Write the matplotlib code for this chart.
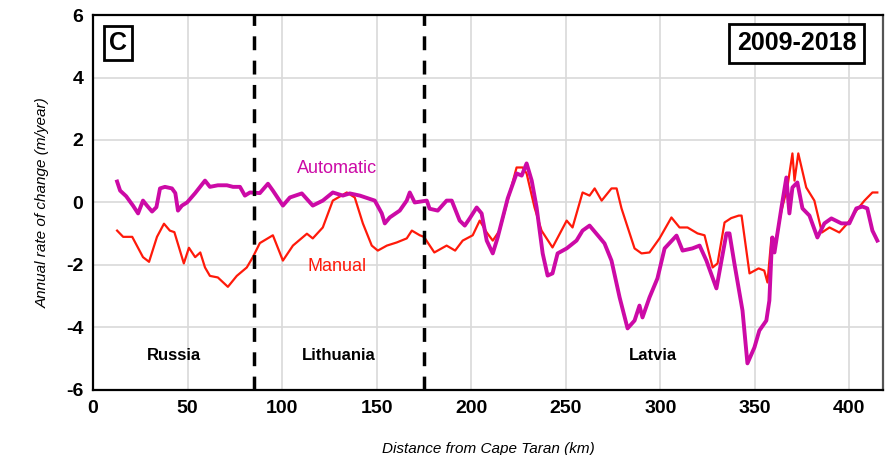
import matplotlib
matplotlib.use('Agg')
import matplotlib.pyplot as plt

plt.rcParams['font.family'] = ['Liberation Sans', 'DejaVu Sans']
plt.rcParams['axes.unicode_minus'] = False

# distance (km) and rate (m/year)
auto_km = [12.7, 14.3, 17.5, 21.1, 23.8, 26.4, 28.5, 31.2, 33.5, 35.4, 38.0, 41.7, 43.5,
           44.9, 47.0, 49.7, 54.0, 59.2, 61.8, 66.0, 70.8, 74.0, 77.7, 80.3, 83.0, 88.2,
           92.5, 95.1, 100.4, 104.1, 110.4, 116.2, 121.5, 126.8, 132.1, 135.8, 141.1,
           149.0, 152.7, 154.3, 156.9, 162.2, 165.9, 167.5, 170.1, 176.5, 178.0, 182.3,
           187.0, 189.7, 193.9, 196.6, 199.2, 202.9, 205.5, 208.2, 211.4, 214.0, 219.3,
           224.0, 226.7, 229.3, 232.0, 234.6, 237.8, 240.4, 243.0, 245.7, 250.5, 255.7,
           258.9, 262.6, 267.9, 270.5, 274.2, 278.5, 282.7, 286.4, 289.0, 290.6, 294.3,
           298.5, 302.3, 308.6, 311.8, 317.0, 320.8, 324.4, 329.7, 335.0, 336.6, 339.2,
           343.5, 346.1, 349.8, 352.4, 356.1, 357.7, 358.8, 359.3, 360.4, 364.1, 366.7,
           368.3, 369.9, 372.5, 375.2, 378.9, 383.1, 386.8, 390.5, 395.8, 400.0, 403.7,
           406.9, 409.5, 412.2, 414.8]
auto_val = [0.67, 0.38, 0.2, -0.1, -0.35, 0.06, -0.1, -0.29, -0.15, 0.45, 0.5, 0.45, 0.3,
            -0.26, -0.1, 0.0, 0.3, 0.7, 0.5, 0.55, 0.55, 0.5, 0.5, 0.22, 0.32, 0.3,
            0.6, 0.38, -0.1, 0.16, 0.29, -0.1, 0.06, 0.32, 0.22, 0.29, 0.22,
            0.06, -0.35, -0.67, -0.48, -0.26, 0.06, 0.32, 0.0, 0.06, -0.2, -0.26,
            0.06, 0.06, -0.58, -0.74, -0.51, -0.16, -0.35, -1.22, -1.63, -1.12, 0.13,
            0.93, 0.86, 1.25, 0.7, -0.16, -1.63, -2.34, -2.27, -1.63, -1.47, -1.22,
            -0.9, -0.74, -1.12, -1.31, -1.86, -3.04, -4.03, -3.78, -3.3, -3.68, -3.04,
            -2.43, -1.47, -1.06, -1.54, -1.47, -1.38, -1.86, -2.75, -0.99, -0.99, -1.95,
            -3.46, -5.15, -4.64, -4.1, -3.78, -3.14, -1.63, -1.12, -1.6, -0.16, 0.8,
            -0.35, 0.48, 0.64, -0.19, -0.42, -1.12, -0.67, -0.51, -0.67, -0.67, -0.19,
            -0.13, -0.19, -0.9, -1.22]

manual_km = [12.7, 15.9, 20.7, 26.4, 29.6, 33.8, 37.5, 40.6, 43.0, 48.0, 50.7, 54.0, 56.7,
             59.2, 61.8, 66.0, 71.3, 76.0, 81.3, 84.5, 88.2, 95.1, 100.4, 105.7, 113.1,
             116.2, 121.5, 126.8, 134.2, 138.4, 142.7, 147.4, 150.6, 155.4, 160.6, 165.9,
             168.6, 172.8, 175.0, 180.5, 187.0, 191.5, 195.5, 200.8, 204.5, 208.2, 211.4,
             215.0, 219.3, 224.0, 227.2, 229.3, 233.5, 237.2, 243.0, 250.5, 253.6, 258.9,
             262.6, 265.3, 269.0, 274.2, 276.9, 279.5, 286.4, 290.1, 294.3, 299.6, 305.9,
             310.2, 314.4, 319.7, 323.4, 327.7, 330.3, 334.0, 337.5, 341.5, 343.0, 347.2,
             352.0, 355.0, 356.7, 358.8, 360.4, 364.1, 367.2, 369.9, 371.0, 373.0, 377.2,
             381.5, 385.5, 389.5, 394.7, 399.0, 403.7, 408.0, 412.2, 414.8]
manual_val = [-0.9, -1.1, -1.1, -1.75, -1.9, -1.1, -0.68, -0.9, -0.95, -1.95, -1.45, -1.75,
              -1.6, -2.08, -2.35, -2.4, -2.7, -2.35, -2.08, -1.75, -1.3, -1.05, -1.86, -1.38,
              -1.0, -1.15, -0.8, 0.06, 0.32, 0.16, -0.67, -1.38, -1.54, -1.38, -1.28, -1.15,
              -0.9, -1.05, -1.1, -1.6, -1.38, -1.54, -1.22, -1.05, -0.58, -0.96, -1.22,
              -0.9, 0.06, 1.12, 1.12, 0.93, -0.16, -0.9, -1.44, -0.58, -0.8, 0.32,
              0.22, 0.45, 0.06, 0.45, 0.45, -0.19, -1.47, -1.63, -1.6, -1.15, -0.48,
              -0.8, -0.8, -0.99, -1.05, -2.08, -1.95, -0.64, -0.5, -0.42, -0.42, -2.27,
              -2.11, -2.18, -2.56, -1.12, -1.44, -0.26, 0.48, 1.57, 0.7, 1.57, 0.48,
              0.06, -0.96, -0.8, -0.96, -0.67, -0.26, 0.06, 0.32, 0.32]

borders_km = [85, 175]
countries = ['Russia', 'Lithuania', 'Latvia']
country_km = [43, 130, 296]

fig = plt.figure(figsize=(8.95, 4.55), dpi=100)
ax = fig.add_axes([0.104, 0.143, 0.883, 0.824])

ax.plot(manual_km, manual_val, color='#ff1a0a', lw=1.6, zorder=3)
ax.plot(auto_km, auto_val, color='#cc0aa6', lw=2.8, zorder=4)

for b in borders_km:
    ax.axvline(b, color='black', lw=2.5, ls=(0, (4, 3)), zorder=5)

ax.set_xlim(0, 418)
ax.set_ylim(-6, 6)
ax.set_xticks(range(0, 401, 50))
ax.set_yticks(range(-6, 7, 2))
ax.grid(True, color='#d9d9d9', lw=1.2)
ax.set_axisbelow(True)
ax.tick_params(length=0, labelsize=14, pad=7)
for lab in ax.get_xticklabels() + ax.get_yticklabels():
    lab.set_fontweight('bold')
for s in ['left', 'bottom', 'top']:
    ax.spines[s].set_linewidth(1.6)
ax.spines['right'].set_linewidth(1.6)
ax.spines['right'].set_color('#555555')

ax.set_xlabel('Distance from Cape Taran (km)', style='italic', fontsize=11, labelpad=18)
ax.set_ylabel('Annual rate of change (m/year)', style='italic', fontsize=11, labelpad=12)

ax.text(129, 1.1, 'Automatic', color='#cc0aa6', fontsize=13, ha='center', va='center')
ax.text(129, -2.05, 'Manual', color='#ff1a0a', fontsize=13, ha='center', va='center')
for name, km in zip(countries, country_km):
    ax.text(km, -4.9, name, fontsize=12, fontweight='bold', ha='center', va='center')

ax.text(13, 5.1, 'C', fontsize=18, fontweight='bold', ha='center', va='center',
        bbox=dict(boxstyle='square,pad=0.2', fc='white', ec='black', lw=2))
ax.text(372, 5.1, '2009-2018', fontsize=18, fontweight='bold', ha='center', va='center',
        bbox=dict(boxstyle='square,pad=0.3', fc='white', ec='black', lw=2))

plt.savefig('out.png', dpi=100)
